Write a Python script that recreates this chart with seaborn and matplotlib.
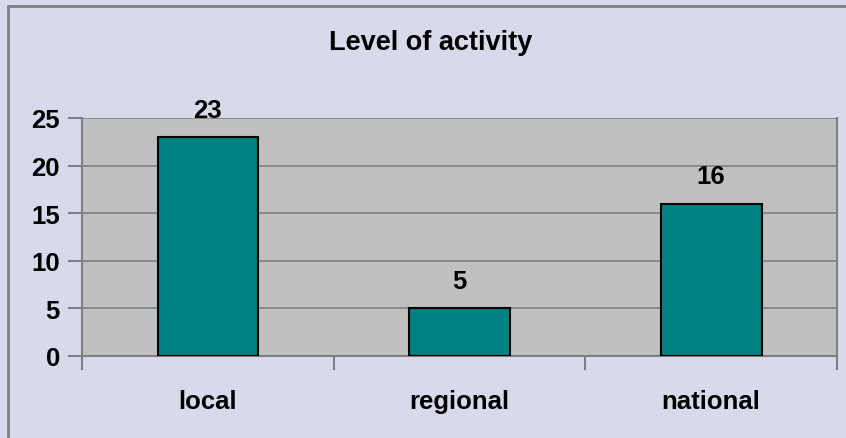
import pandas as pd
import seaborn as sns
import matplotlib.pyplot as plt
from matplotlib.lines import Line2D

# Data
categories = ['local', 'regional', 'national']
counts = [23, 5, 16]

df = pd.DataFrame({'level': categories, 'count': counts})

sns.set_style('white')
plt.rcParams['font.family'] = ['Liberation Sans', 'DejaVu Sans']
plt.rcParams['font.weight'] = 'bold'
plt.rcParams['text.color'] = 'black'
plt.rcParams['xtick.labelcolor'] = 'black'
plt.rcParams['ytick.labelcolor'] = 'black'

bg = '#D9D9EC'
fig = plt.figure(figsize=(8.46, 4.39), dpi=100, facecolor=bg)
ax = fig.add_axes([82 / 846, 1 - 357 / 439, (837 - 82) / 846, (357 - 119) / 439])
ax.set_facecolor('#C0C0C0')

sns.barplot(data=df, x='level', y='count', color='#008080', width=0.4,
            edgecolor='black', linewidth=1.5, saturation=1, ax=ax, zorder=3)

# Value labels
for i, v in enumerate(counts):
    ax.annotate(str(v), (i, v), xytext=(0, 11), textcoords='offset points',
                ha='center', va='bottom', fontsize=18.5, fontweight='bold',
                color='black')

ax.set_xlim(-0.5, 2.5)
ax.set_ylim(0, 25)
ax.set_yticks(range(0, 26, 5))
ax.yaxis.grid(True, color='#808080', linewidth=1.2, zorder=0)
ax.set_axisbelow(True)

# axis styling
for side in ['left', 'bottom', 'right', 'top']:
    ax.spines[side].set_color('#808080')
    ax.spines[side].set_linewidth(1.5)
ax.spines['top'].set_visible(False)

ax.tick_params(axis='y', which='major', length=10, width=1.5, color='#808080',
               labelsize=18.5, pad=6, left=True)
ax.set_xticks([-0.5, 0.5, 1.5, 2.5], minor=True)
ax.tick_params(axis='x', which='minor', length=10, width=1.5, color='#808080',
               bottom=True)
ax.tick_params(axis='x', which='major', length=0, labelsize=18.5, pad=24)
for lab in ax.get_xticklabels() + ax.get_yticklabels():
    lab.set_fontweight('bold')
    lab.set_color('black')

ax.set_xlabel('')
ax.set_ylabel('')

fig.text(431 / 846, 1 - 43 / 439, 'Level of activity', ha='center', va='center',
         fontsize=19.5, fontweight='bold', color='black')

# outer chart frame (left and top edges visible)
fx, fy = 8 / 846, 1 - 7 / 439
fig.lines.append(Line2D([fx, fx], [0, fy], transform=fig.transFigure,
                        color='#808080', linewidth=2))
fig.lines.append(Line2D([fx, 1], [fy, fy], transform=fig.transFigure,
                        color='#808080', linewidth=2))

plt.savefig('out.png', dpi=100, facecolor=bg)
